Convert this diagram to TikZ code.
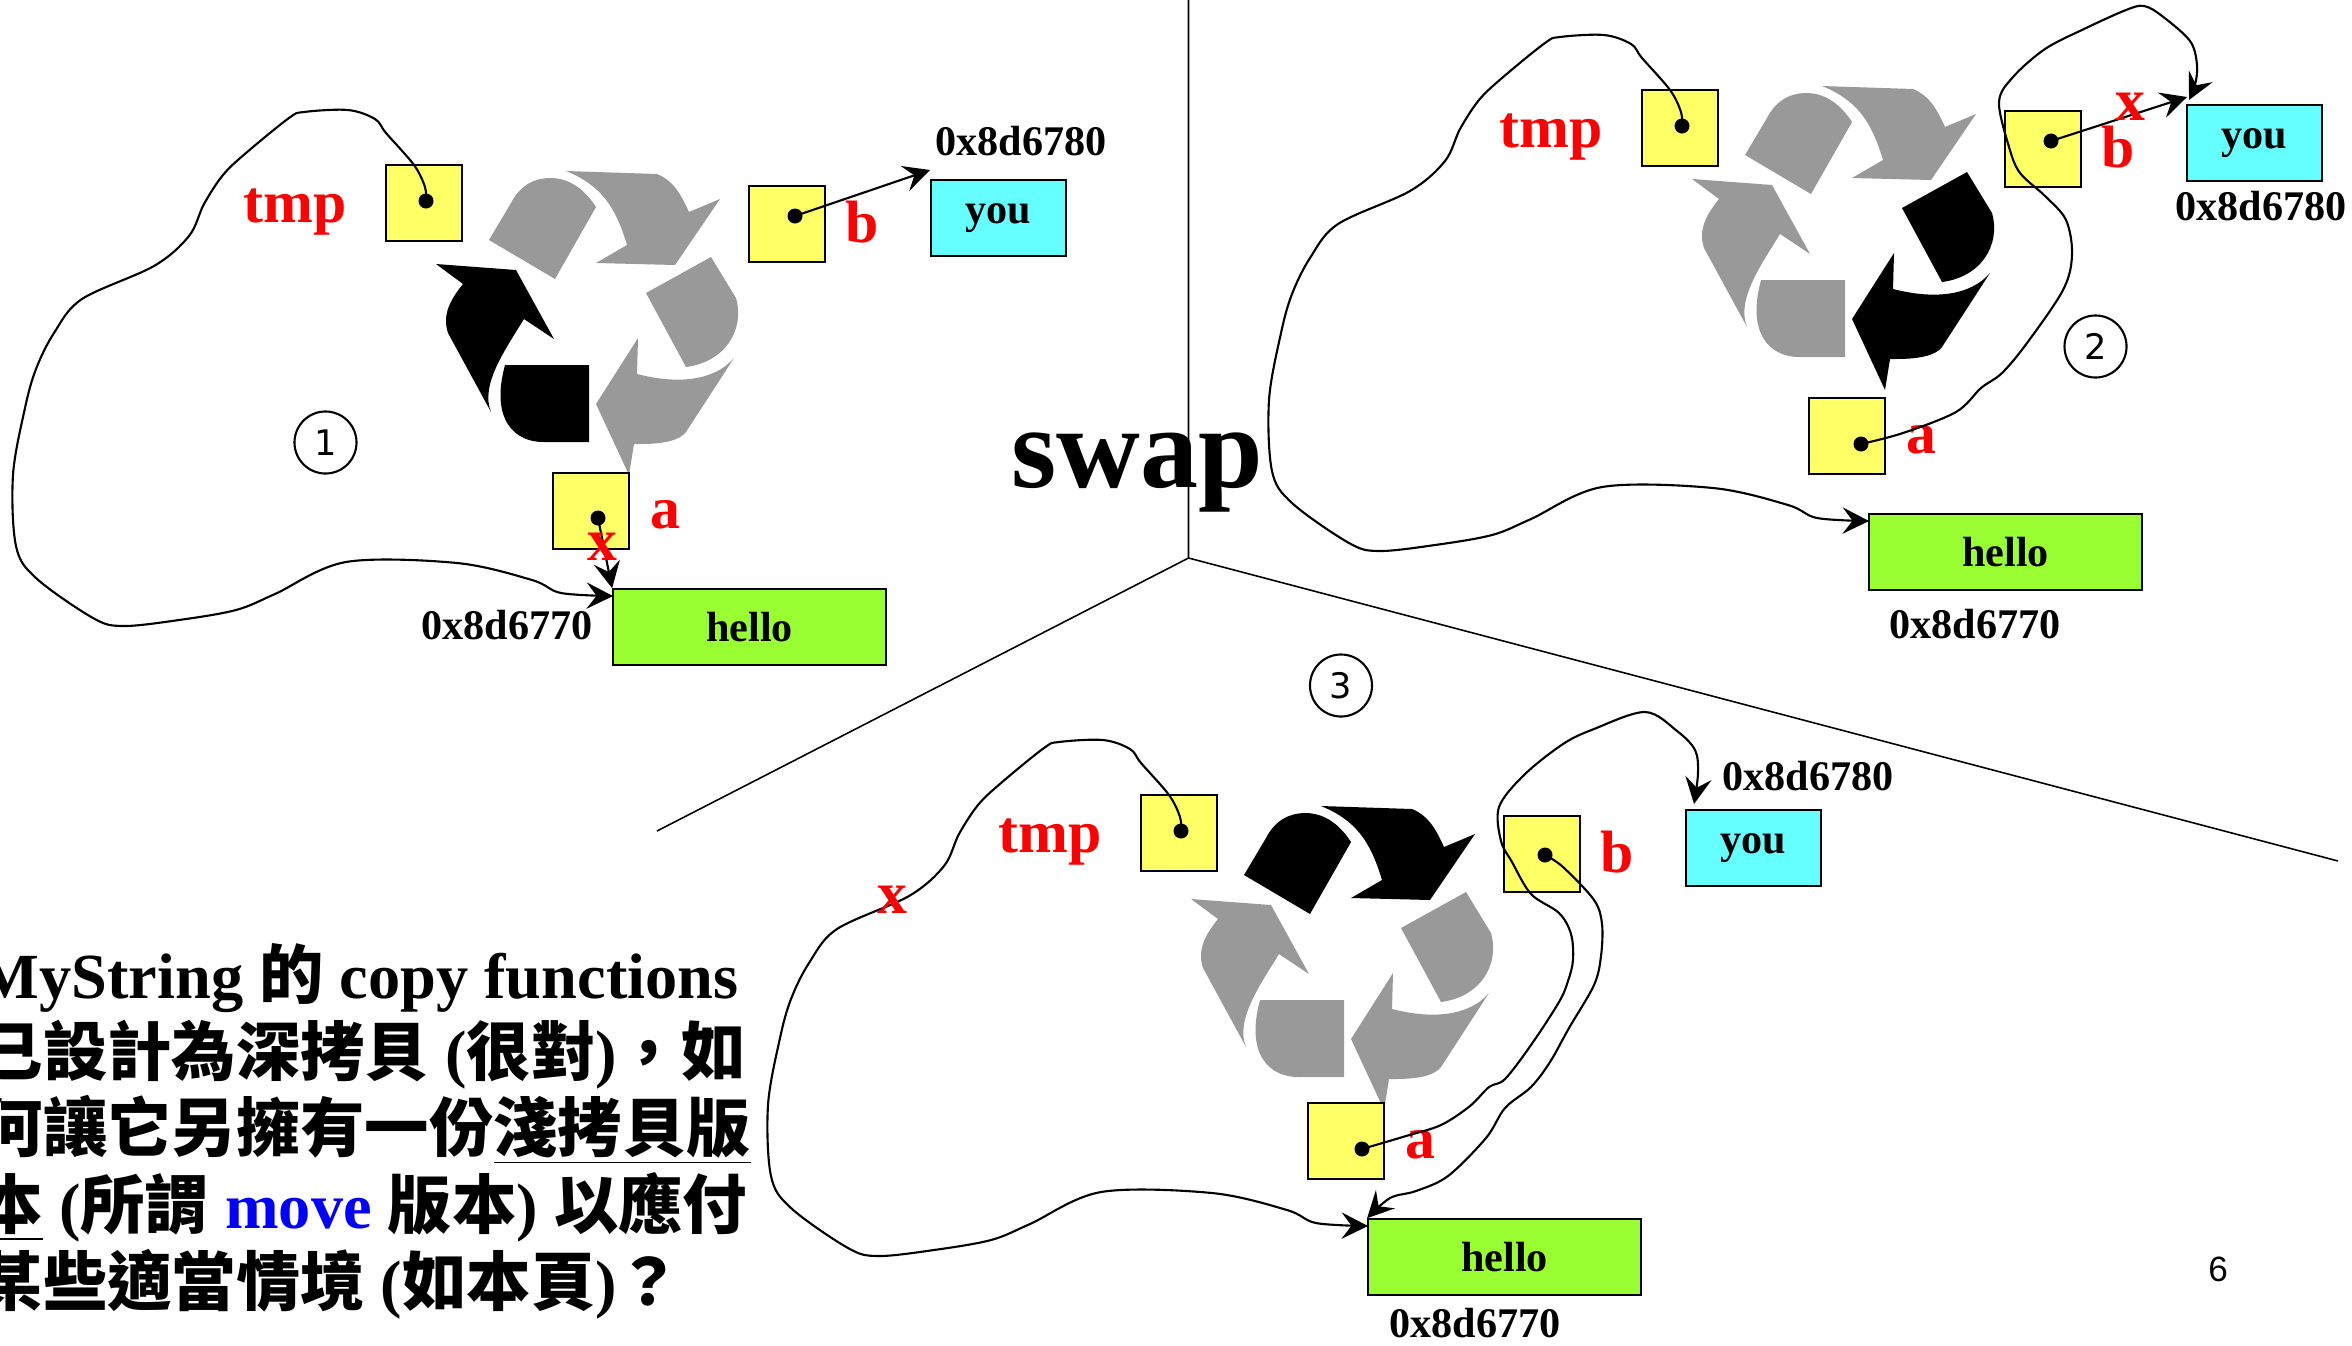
\documentclass[tikz,border=0pt]{standalone}
\usepackage{fontspec}
\setmainfont{Liberation Serif}
\newfontfamily\zhfont{Noto Sans CJK TC}
\newfontfamily\numfont{DejaVu Sans}
\newfontfamily\pagefont{Liberation Sans}
\usetikzlibrary{arrows.meta}
\definecolor{boxyellow}{HTML}{FFFF66}
\definecolor{boxcyan}{HTML}{66FFFF}
\definecolor{boxgreen}{HTML}{99FF33}
\newcommand{\zh}[1]{{\zhfont\bfseries #1}}
\tikzset{
	ptr/.style={line width=0.6pt, -{Stealth[length=7.5pt,width=7.5pt,inset=2.8pt]}},
	varbox/.style={draw, line width=0.6pt, fill=boxyellow, minimum width=0.755cm, minimum height=0.755cm, inner sep=0pt},
	heapbox/.style={draw, line width=0.6pt, inner sep=0pt, minimum height=0.755cm, font=\bfseries\fontsize{12}{12}\selectfont},
	ptrdot/.style={circle, fill=black, inner sep=0pt, minimum size=0.15cm},
	varlabel/.style={text=red, inner sep=0pt, anchor=base, font=\bfseries\fontsize{17}{17}\selectfont},
	addr/.style={inner sep=0pt, anchor=base, font=\bfseries\fontsize{12}{12}\selectfont},
	stepnum/.style={circle, draw, line width=0.6pt, minimum size=0.62cm, inner sep=0pt, font=\numfont\fontsize{10}{10}\selectfont},
	noteline/.style={inner sep=0pt, anchor=base west, font=\bfseries\fontsize{18.3}{18.3}\selectfont}
}
% #1 suffix, #2 #3 #4 colours of the three arrows, #5 shift of the symbol
\def\slidepanel#1#2#3#4#5{
	\begin{scope}[shift={#5}]
		\fill[#2] (489,240) -- (511,203) .. controls (520,185) and (535,178) .. (550,178) .. controls (570,178) and (585,190) .. (596,207) -- (555,279) -- cycle;
		\fill[#2] (566,171) -- (657,174) .. controls (672,180) and (680,192) .. (689,212) -- (720,199) -- (675,265) -- (596,263) -- (627,245) .. controls (615,205) and (600,185) .. (566,171) -- cycle;
		\fill[#3] (646,293) -- (711,257) -- (736,298) .. controls (745,330) and (725,362) .. (686,367) -- cycle;
		\fill[#3] (734,358) -- (686,432) .. controls (680,440) and (665,444) .. (640,444) -- (634,444) -- (629,475) -- (596,404) -- (638,338) -- (637,374) .. controls (680,385) and (715,380) .. (734,358) -- cycle;
		\fill[#4] (589,365) -- (589,442) -- (543,442) .. controls (515,442) and (490,420) .. (505,365) -- cycle;
		\fill[#4] (436,264) -- (516,270) -- (554,339) -- (524,319) .. controls (505,350) and (480,385) .. (491,412) -- (448,333) .. controls (442,315) and (450,300) .. (463,284) -- cycle;
	\end{scope}
	
	\node[varbox] (tmp#1) at (424,203) {};
	\node[varbox] (b#1) at (787,224) {};
	\node[varbox] (a#1) at (591,511) {};
	\node[heapbox, fill=boxcyan, minimum width=1.35cm] (you#1) at (998.5,218) {you};
	\node[heapbox, fill=boxgreen, minimum width=2.725cm] (hello#1) at (749.5,627) {hello};
	
	\node[varlabel] (tmplabel#1) at (295,222) {tmp};
	\node[varlabel] (blabel#1) at (862,242) {b};
	\node[varlabel] (alabel#1) at (665,528) {a};
	
	\node[ptrdot] (tmpdot#1) at (426,201) {};
	\coordinate (helloin#1) at (613,596);
	\draw[ptr] plot[smooth, tension=0.55] coordinates {(tmpdot#1.center) (425,187) (414,165) (386,133) (375,119) (348,110) (304,112) (289,118) (246,153) (223,175) (204,204) (189,236) (154,266) (82,299) (54,333) (36,369) (25,408) (13,475) (16,546) (36,578) (93,618) (123,626) (179,620) (236,610) (275,594) (346,562) (457,563) (532,580) (561,593) (helloin#1)};
}

\begin{document}
\begin{tikzpicture}[x=0.01cm, y=-0.01cm]
	\useasboundingbox (0,0) rectangle (2352,1345);
	
	%%%%% dividers %%%%%
	\coordinate (hub) at (1188.5,558);
	\coordinate (topend) at (1188.5,0);
	\coordinate (leftend) at (657,831);
	\coordinate (rightend) at (2338,861);
	\node[inner sep=0pt, anchor=base, font=\bfseries\fontsize{33}{33}\selectfont] (swap) at (1137,487) {swap};
	\draw[line width=0.45pt] (topend) -- (hub) -- (leftend);
	\draw[line width=0.45pt] (hub) -- (rightend);
	
	%%%%% step 1 %%%%%
	\slidepanel{1}{black!40}{black!40}{black}{(0,0)}
	\node[ptrdot] (bdot1) at (795,216) {};
	\node[ptrdot] (adot1) at (598,518) {};
	\coordinate (youin1) at (930,170);
	\draw[ptr] (bdot1.center) -- (youin1);
	\draw[ptr] (adot1.center) -- (hello1.north west);
	\node[varlabel] (cross1) at (602,560) {x};
	\node[addr] (addryou1) at (1021,155) {0x8d6780};
	\node[addr] (addrhello1) at (507,639) {0x8d6770};
	\node[stepnum] (num1) at (325.5,442.5) {1};
	
	%%%%% step 2 %%%%%
	\begin{scope}[shift={(1256,-75)}]
		\slidepanel{2}{black!40}{black}{black!40}{(0,-10)}
	\end{scope}
	\node[ptrdot] (bdot2) at (2051,141) {};
	\node[ptrdot] (adot2) at (1861,444) {};
	\coordinate (youin2) at (2187,97);
	\coordinate (youtop2) at (2189,100);
	\draw[ptr] (bdot2.center) -- (youin2);
	\draw[ptr] plot[smooth, tension=0.55] coordinates {(adot2.center) (1903,433) (1956,412) (1981,388) (2002,373) (2027,343) (2063,290) (2072,255) (2066,220) (2045,196) (2020,173) (2009,147) (1999,102) (2013,77) (2045,49) (2084,29) (2126,10) (2144,6) (2162,16) (2190,41) (2197,65) (2195,85) (youtop2)};
	\node[varlabel] (cross2) at (2130,120) {x};
	\node[addr] (addryou2) at (2261,220) {0x8d6780};
	\node[addr] (addrhello2) at (1975,638) {0x8d6770};
	\node[stepnum] (num2) at (2095.5,346.5) {2};
	
	%%%%% step 3 %%%%%
	\begin{scope}[shift={(755,630)}]
		\slidepanel{3}{black}{black!40}{black!40}{(0,5)}
	\end{scope}
	\node[ptrdot] (bdot3) at (1545,855) {};
	\node[ptrdot] (adot3) at (1362,1149) {};
	\coordinate (youtop3) at (1694,804);
	\draw[ptr] plot[smooth, tension=0.55] coordinates {(adot3.center) (1406,1136) (1441,1125) (1470,1106) (1489,1087) (1505,1079) (1531,1045) (1559,1002) (1568,981) (1573,960) (1571,934) (1559,913) (1531,894) (1512,862) (1501,841) (1499,807) (1524,775) (1563,744) (1594,729) (1645,712) (1677,731) (1695,750) (1698,773) (youtop3)};
	\draw[ptr] plot[smooth, tension=0.55] coordinates {(bdot3.center) (1563,867) (1594,900) (1602,924) (1601,956) (1594,985) (1569,1028) (1550,1062) (1531,1087) (1505,1108) (1486,1138) (1448,1176) (1416,1191) (1390,1198) (hello3.north west)};
	\node[varlabel] (cross3) at (892,913) {x};
	\node[addr] (addryou3) at (1808,790) {0x8d6780};
	\node[addr] (addrhello3) at (1475,1337) {0x8d6770};
	\node[stepnum] (num3) at (1341,685.5) {3};
	
	%%%%% note %%%%%
	\node[noteline] (note1) at (-22,998) {MyString \zh{的} copy functions};
	\node[noteline] (note2) at (-22,1075) {\zh{已設計為深拷貝} (\zh{很對})\zh{，如}};
	\node[noteline] (note3) at (-22,1151) {\zh{何讓它另擁有一份}\underline{\zh{淺拷貝版}}};
	\node[noteline] (note4) at (-22,1228) {\underline{\zh{本}} (\zh{所謂} \textcolor{blue}{move} \zh{版本}) \zh{以應付}};
	\node[noteline] (note5) at (-22,1305) {\zh{某些適當情境} (\zh{如本頁})\zh{？}};
	
	\node[inner sep=0pt, font=\pagefont\fontsize{10}{10}\selectfont] (pagenum) at (2218,1269) {6};
\end{tikzpicture}
\end{document}
